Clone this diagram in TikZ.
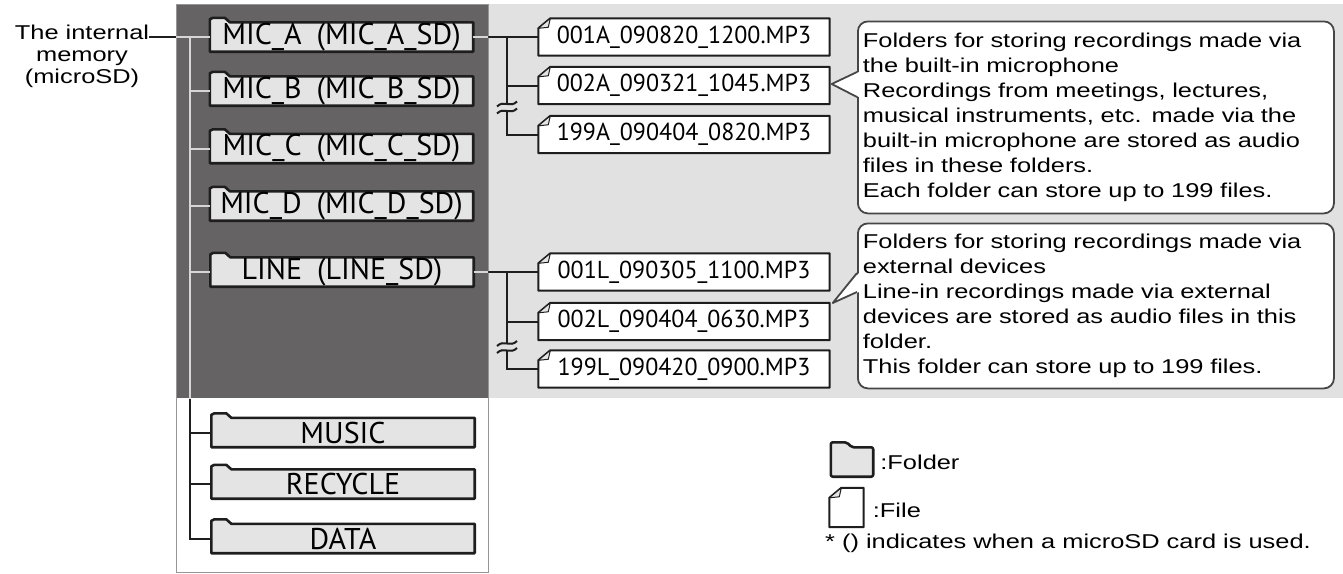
\documentclass[tikz,border=0pt]{standalone}
\usepackage{fontspec}
\setmainfont{Liberation Sans}
\newfontfamily\txtfont{Liberation Sans}[FakeStretch=1.27]
\newfontfamily\fldfont{PT Sans}[FakeStretch=1.0]
\newfontfamily\filfont{PT Sans}[FakeStretch=0.98]
\usetikzlibrary{calc}
\definecolor{darkbg}{RGB}{102,99,100}
\definecolor{lightbg}{RGB}{225,225,225}
\definecolor{fldfill}{RGB}{228,228,228}
\definecolor{inkc}{RGB}{30,30,30}
\definecolor{wirelight}{RGB}{215,215,215}
\definecolor{colframe}{RGB}{150,150,150}
\definecolor{callframe}{RGB}{70,70,70}
\pgfdeclarelayer{back}
\pgfdeclarelayer{mid}
\pgfsetlayers{back,mid,main}
\newcommand\treewires[1]{%
  \draw[#1] (root.east |- ma.west) -- (ma.west);
  \draw[#1] (trunk |- ma.west) |- (da.west);
  \foreach \n in {mb,mc,md,li,mu,re}{\draw[#1] (trunk |- \n.west) -- (\n.west);}
  \draw[#1] (ma.east) -- (fa1.west);
  \draw[#1] (li.east) -- (fl1.west);
  \foreach \brk/\fone/\ftwo/\fthree in {ba/fa1/fa2/fa3, bl/fl1/fl2/fl3}{
    \draw[#1] (\brk |- \fone.west) -- ([yshift=3.5pt]\brk);
    \draw[#1] ([yshift=-3.5pt]\brk) |- (\fthree.west);
    \draw[#1] (\brk |- \ftwo.west) -- (\ftwo.west);
    \draw[#1] ([shift={(-10pt,1pt)}]\brk) .. controls ([shift={(-3pt,8pt)}]\brk) and ([shift={(3pt,-1pt)}]\brk) .. ([shift={(10pt,6pt)}]\brk);
    \draw[#1] ([shift={(-10pt,-6pt)}]\brk) .. controls ([shift={(-3pt,1pt)}]\brk) and ([shift={(3pt,-8pt)}]\brk) .. ([shift={(10pt,-1pt)}]\brk);
  }%
}
\begin{document}
\begin{tikzpicture}[x=1pt,y=-1pt,
  fld/.style={minimum width=263pt,minimum height=29pt,inner sep=0pt,font=\fldfont\fontsize{30}{30}\selectfont,text=black},
  fil/.style={minimum width=291pt,minimum height=37pt,inner sep=0pt,font=\filfont\fontsize{24.5}{24.5}\selectfont,text=black},
  fldpath/.style={draw=inkc,fill=fldfill,line width=2.6pt,line join=round},
  filpath/.style={draw=inkc,fill=white,line width=2pt,line join=round},
  foldpath/.style={draw=inkc,fill=fldfill,line width=1pt,line join=round},
  wire/.style={draw=inkc,line width=2pt},
  wirel/.style={draw=wirelight,line width=2pt},
  call/.style={draw=callframe,fill=white,line width=1.8pt,rounded corners=10pt,text width=466pt,inner xsep=5pt,inner ysep=0pt,align=left,font=\txtfont\fontsize{20}{25}\selectfont,anchor=north west},
  lbl/.style={font=\txtfont\fontsize{20}{22}\selectfont,inner sep=0pt,text=black},
  icon/.style={inner sep=0pt}
]
\useasboundingbox (0,0) rectangle (1343,573);
\begin{pgfonlayer}{back}
\fill[white] (0,0) rectangle (1343,573);
\fill[lightbg] (488,4) rectangle (1343,398);
\fill[darkbg] (176,4) rectangle (488,398);
\draw[colframe,line width=1pt] (176,4) rectangle (488,572);
\end{pgfonlayer}

\coordinate (trunk) at (190,0);
\coordinate (ba) at (507,107.5);
\coordinate (bl) at (507,347);

\node[lbl,align=center,anchor=north] (root) at (82,25) {The internal\\memory\\(microSD)};

\node[fld] (ma) at (341.5,37) {MIC\_A\hspace{0.5em}(MIC\_A\_SD)};
\node[fld] (mb) at (341.5,91) {MIC\_B\hspace{0.5em}(MIC\_B\_SD)};
\node[fld] (mc) at (341.5,148.5) {MIC\_C\hspace{0.5em}(MIC\_C\_SD)};
\node[fld] (md) at (341.5,206) {MIC\_D\hspace{0.5em}(MIC\_D\_SD)};
\node[fld] (li) at (342,272) {LINE\hspace{0.5em}(LINE\_SD)};
\node[fld] (mu) at (343,432.5) {MUSIC};
\node[fld] (re) at (343,484) {RECYCLE};
\node[fld] (da) at (343,538.5) {DATA};

\node[fil] (fa1) at (684,37) {001A\_090820\_1200.MP3};
\node[fil] (fa2) at (684,85.5) {002A\_090321\_1045.MP3};
\node[fil] (fa3) at (684,134.5) {199A\_090404\_0820.MP3};
\node[fil] (fl1) at (684,272) {001L\_090305\_1100.MP3};
\node[fil] (fl2) at (684,321.5) {002L\_090404\_0630.MP3};
\node[fil] (fl3) at (684,369) {199L\_090420\_0900.MP3};

\node[call,minimum height=192pt] (ca) at (857,20.5) {Folders for storing recordings made via\\the built-in microphone\\Recordings from meetings, lectures,\\musical instruments, etc. made via the\\built-in microphone are stored as audio\\files in these folders.\\Each folder can store up to 199 files.};
\node[call,minimum height=165pt] (cb) at (857,222.5) {Folders for storing recordings made via\\external devices\\Line-in recordings made via external\\devices are stored as audio files in this\\folder.\\This folder can store up to 199 files.};

% callout pointers
\fill[white] ([xshift=2pt,yshift=1.5pt]fa2.east) -- ([xshift=2pt,yshift=-51.5pt]ca.north west) -- ([xshift=2pt,yshift=-76.5pt]ca.north west) -- cycle;
\draw[callframe,line width=1.8pt,line join=round] ([yshift=-51.5pt]ca.north west) -- ([xshift=2pt,yshift=1.5pt]fa2.east) -- ([yshift=-76.5pt]ca.north west);
\fill[white] ([xshift=3pt,yshift=18.5pt]fl2.east) -- ([xshift=2pt,yshift=-50.5pt]cb.north west) -- ([xshift=2pt,yshift=-69.5pt]cb.north west) -- cycle;
\draw[callframe,line width=1.8pt,line join=round] ([yshift=-50.5pt]cb.north west) -- ([xshift=3pt,yshift=18.5pt]fl2.east) -- ([yshift=-69.5pt]cb.north west);

% legend
\node[icon,minimum width=42pt,minimum height=29pt] (lf) at (852,462) {};
\node[icon,minimum width=34pt,minimum height=39pt] (lfi) at (846.5,507.5) {};
\node[lbl,anchor=west] (lft) at ([xshift=7pt]lf.east) {:Folder};
\node[lbl,anchor=west] (lfit) at ([xshift=9pt,yshift=-3pt]lfi.east) {:File};
\node[lbl,anchor=base west] (note) at (825,548) {* () indicates when a microSD card is used.};

\begin{pgfonlayer}{mid}
\foreach \n in {ma,mb,mc,md,li,mu,re,da}{
  \filldraw[fldpath] (\n.south west) -- ([yshift=3pt]\n.north west) -- ([xshift=3pt,yshift=4.5pt]\n.north west) -- ([xshift=15pt,yshift=4.5pt]\n.north west) -- ([xshift=20pt]\n.north west) -- (\n.north east) -- (\n.south east) -- cycle;
}
\filldraw[fldpath,rounded corners=2pt] (lf.south west) -- ([yshift=5pt]lf.north west) -- ([xshift=16pt,yshift=5pt]lf.north west) -- ([xshift=21pt]lf.north west) -- (lf.north east) -- (lf.south east) -- cycle;
\foreach \n in {fa1,fa2,fa3,fl1,fl2,fl3,lfi}{
  \filldraw[filpath] (\n.south west) -- ([yshift=-10pt]\n.north west) -- ([xshift=12pt]\n.north west) -- (\n.north east) -- (\n.south east) -- cycle;
  \filldraw[foldpath] ([yshift=-10pt]\n.north west) -- ([xshift=10pt,yshift=-9pt]\n.north west) -- ([xshift=12pt]\n.north west) -- cycle;
}
\end{pgfonlayer}

\treewires{wire}
\begin{scope}
\clip (176,4) rectangle (488,398);
\treewires{wirel}
\end{scope}
\end{tikzpicture}
\end{document}
